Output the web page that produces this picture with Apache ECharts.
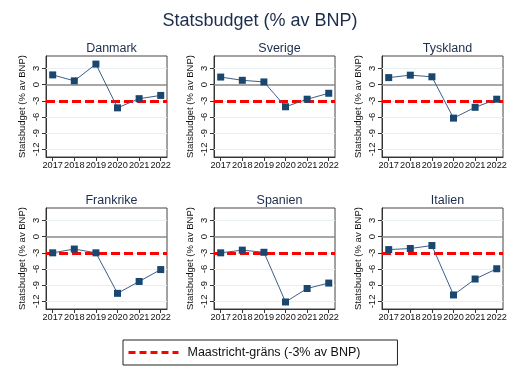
<!DOCTYPE html>
<html>
<head>
<meta charset="utf-8">
<title></title>
<style>
	* { margin: 0; padding: 0; }
	html, body { width: 100%; height: 100%; background: #fff; }
	#main { width: 520px; height: 377px; }
</style>
</head>
<body>
<div id="main"></div>
<script src="https://cdn.jsdelivr.net/npm/echarts@6/dist/echarts.min.js"></script>
<script>
	// data
	var years = [2017, 2018, 2019, 2020, 2021, 2022]
	var countries = ['Danmark', 'Sverige', 'Tyskland', 'Frankrike', 'Spanien', 'Italien']
	var danmark = [1.8, 0.7, 3.8, -4.3, -2.6, -2.0]
	var sverige = [1.4, 0.8, 0.5, -4.1, -2.7, -1.6]
	var tyskland = [1.3, 1.75, 1.45, -6.2, -4.2, -2.7]
	var frankrike = [-3.0, -2.3, -3.0, -10.5, -8.3, -6.1]
	var spanien = [-3.0, -2.5, -2.9, -12.1, -9.6, -8.6]
	var italien = [-2.4, -2.2, -1.65, -10.8, -7.85, -5.95]
	var yTicks = [3, 0, -3, -6, -9, -12]
	var gridVals = [3, -3, -6, -9, -12]
	var limit = -3
	var legendName = 'Maastricht-gräns (-3% av BNP)'

	var values = [danmark, sverige, tyskland, frankrike, spanien, italien]

	var font = 'Liberation Sans, Arial, sans-serif'
	var lefts = [46, 214, 382]
	var tops = [56, 208]
	var w = 121
	var h = 101

	var titles = [{
		text: 'Statsbudget (% av BNP)',
		left: 'center',
		top: 7,
		textStyle: { fontFamily: font, fontSize: 18, fontWeight: 'normal', color: '#1c2d4c' }
	}]
	var grids = [], xAxes = [], yAxes = [], series = []

	for (let i = 0; i < countries.length; i++) {
		let col = i % 3
		let row = Math.floor(i / 3)
		titles.push({
			text: countries[i],
			left: lefts[col] + w / 2,
			top: tops[row] - 19,
			textAlign: 'center',
			textStyle: { fontFamily: font, fontSize: 12.5, fontWeight: 'normal', color: '#1c2d4c' }
		})
		grids.push({
			left: lefts[col], top: tops[row], width: w, height: h,
			show: true, borderColor: '#444', borderWidth: 1, backgroundColor: '#fff'
		})
		xAxes.push({
			type: 'value', gridIndex: i, min: 2016.69, max: 2022.29,
			axisLine: { onZero: false, lineStyle: { color: '#333' } },
			axisTick: { show: true, length: 4, lineStyle: { color: '#333' }, customValues: years },
			axisLabel: {
				customValues: years, fontFamily: font, fontSize: 9.2, color: '#111', margin: 4,
				interval: 0, hideOverlap: false, showMinLabel: true, showMaxLabel: true,
				formatter: function(v) { return String(v) }
			},
			splitLine: { show: false }
		})
		yAxes.push({
			type: 'value', gridIndex: i, min: -13.4, max: 5.3,
			name: 'Statsbudget (% av BNP)', nameLocation: 'middle', nameRotate: 90, nameGap: 19,
			nameTextStyle: { fontFamily: font, fontSize: 9.5, color: '#111' },
			axisLine: { show: true, lineStyle: { color: '#333' } },
			axisTick: { show: true, length: 4, lineStyle: { color: '#333' }, customValues: yTicks },
			axisLabel: { customValues: yTicks, rotate: 90, fontFamily: font, fontSize: 9.5, color: '#111', margin: 5 },
			splitLine: { show: false }
		})
		let pts = []
		for (let j = 0; j < years.length; j++) pts.push([years[j], values[i][j]])
		let marks = []
		for (let k = 0; k < gridVals.length; k++) {
			marks.push({ yAxis: gridVals[k], lineStyle: { color: '#e6eff1', width: 1, type: 'solid' } })
		}
		marks.push({ yAxis: 0, lineStyle: { color: '#8a8a8a', width: 1.6, type: 'solid' } })
		marks.push({ yAxis: limit, lineStyle: { color: '#ff0000', width: 3, type: [9, 4] } })
		series.push({
			type: 'line', xAxisIndex: i, yAxisIndex: i,
			data: pts,
			symbol: 'rect', symbolSize: 7,
			itemStyle: { color: '#1a476f' },
			lineStyle: { color: '#3d5f85', width: 1 },
			z: 5,
			markLine: {
				silent: true, symbol: 'none', label: { show: false },
				animation: false,
				data: marks
			}
		})
	}

	// legend entry only
	series.push({
		name: legendName, type: 'line', xAxisIndex: 0, yAxisIndex: 0,
		data: [], symbol: 'none', showSymbol: false,
		itemStyle: { color: '#ff0000' },
		lineStyle: { color: '#ff0000', width: 3, type: [7, 4] }
	})

	var myChart = echarts.init(document.getElementById('main'))
	myChart.setOption({
		animation: false,
		title: titles,
		grid: grids,
		xAxis: xAxes,
		yAxis: yAxes,
		legend: {
			data: [legendName],
			left: 123, top: 340,
			itemWidth: 50, itemHeight: 12, itemGap: 0,
			padding: [6, 37, 6, 4],
			borderColor: '#222', borderWidth: 1,
			selectedMode: false,
			itemStyle: { opacity: 0 },
			lineStyle: { color: '#ff0000', width: 3, type: [7, 4] },
			textStyle: { fontFamily: font, fontSize: 12.5, color: '#111', padding: [0, 0, 0, 4] }
		},
		series: series
	})
</script>
</body>
</html>
